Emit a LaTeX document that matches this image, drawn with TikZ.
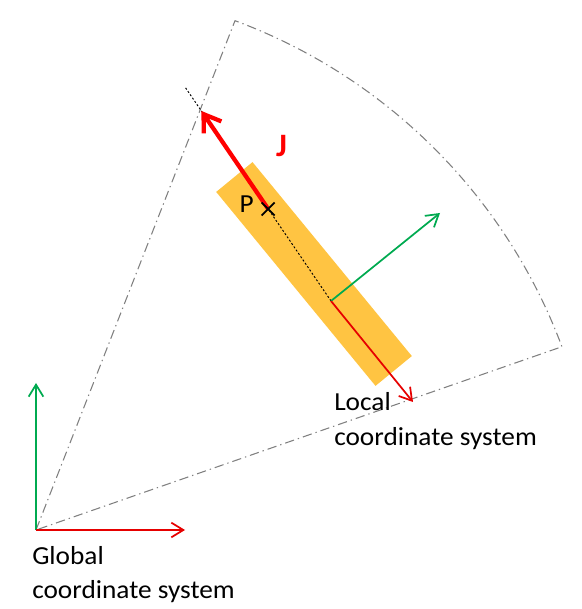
\documentclass[tikz,border=0pt]{standalone}
\usepackage{fontspec}
\setmainfont{Carlito}
\newfontfamily\lblfont[FakeStretch=1.05]{Carlito}
\usetikzlibrary{arrows.meta,calc}
\definecolor{barcol}{RGB}{255,196,66}
\definecolor{axred}{RGB}{230,0,0}
\definecolor{jred}{RGB}{255,0,0}
\definecolor{axgreen}{RGB}{0,170,80}
\definecolor{secgray}{RGB}{128,128,128}
\tikzset{
  axis/.style={line width=1.3pt,-{Straight Barb[length=9pt,width=11pt,line width=1.3pt]}},
  sector/.style={secgray,line width=0.8pt,dash pattern=on 7pt off 3pt on 1pt off 3pt},
  dotline/.style={black,line width=0.7pt,dash pattern=on 1.5pt off 1.5pt},
  jarrow/.style={jred,line width=3.2pt,-{Straight Barb[length=12pt,width=16pt,line width=3.2pt]}},
  lbl/.style={font=\lblfont\fontsize{19.5}{26}\selectfont,inner sep=0pt,align=left}
}
\begin{document}
\begin{tikzpicture}[x=0.75pt,y=0.75pt]
\useasboundingbox (0,0) rectangle (581,609);
% global system
\coordinate (O) at (36,79);
\coordinate (Gy) at (36,226);
\coordinate (Gx) at (185,79);
% sector
\coordinate (A) at (235,588.3);
\draw[sector] (O) -- (A) arc[start angle=69.66,end angle=20.5,radius=555] -- cycle;
% bar
\fill[barcol,shift={(314,335)},rotate=-50.6] (-125.5,-23.5) rectangle (125.5,23.5);
% local system
\coordinate (L) at (331,308);
\coordinate (Lx) at (413,207);
\coordinate (Ly) at (440,396);
\coordinate (E) at (185,522);
\coordinate (P) at (268.2,400);
\coordinate (Jt) at (201.4,498);
\draw[dotline] (L) -- (E);
\draw[jarrow] (P) -- (Jt);
\draw[axis,axgreen] (L) -- (Ly);
\draw[axis,axred] (L) -- (Lx);
\draw[black,line width=1.3pt] ($(P)+(-6.5,-6.5)$) -- ($(P)+(6.5,6.5)$) ($(P)+(-6.5,6.5)$) -- ($(P)+(6.5,-6.5)$);
\draw[axis,axgreen] (O) -- (Gy);
\draw[axis,axred] (O) -- (Gx);
% labels
\node[lbl,anchor=base] (Plbl) at (246.7,396) {P};
\node[lbl,anchor=base,jred,font=\fontsize{24.5}{28}\selectfont\bfseries] (Jlbl) at (281.5,452) {J};
\node[lbl,anchor=base west] (Loc1) at (334,198) {Local};
\node[lbl,anchor=base west] (Loc2) at (334,163) {coordinate system};
\node[lbl,anchor=base west] (Glo1) at (32,44) {Global};
\node[lbl,anchor=base west] (Glo2) at (32,10) {coordinate system};
\end{tikzpicture}
\end{document}
